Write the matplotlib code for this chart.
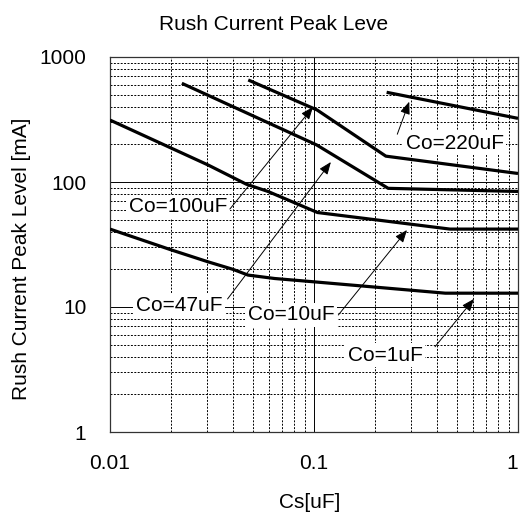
import matplotlib
matplotlib.use("Agg")
import matplotlib.pyplot as plt
from matplotlib.ticker import FixedLocator, LogLocator, NullFormatter

plt.rcParams['font.family'] = ['Liberation Sans', 'DejaVu Sans']
plt.rcParams['font.size'] = 15

# Curves: Cs [uF] -> rush current peak [mA]
cs_220 = [0.227, 1.0]
i_220 = [522, 323]

cs_100 = [0.0476, 0.1035, 0.225, 1.0]
i_100 = [655, 377, 161, 117]

cs_47 = [0.0225, 0.103, 0.231, 1.0]
i_47 = [616, 198, 89, 84]

cs_10 = [0.01, 0.0302, 0.0466, 0.0595, 0.104, 0.464, 1.0]
i_10 = [313, 137, 96, 84, 57, 42, 42]

cs_1 = [0.01, 0.02, 0.0302, 0.0401, 0.0475, 0.0642, 0.1, 0.44, 1.0]
i_1 = [42, 28.6, 23, 20, 18, 16.9, 15.9, 12.9, 12.9]

x_ticks = [0.01, 0.1, 1]
x_ticklabels = ['0.01', '0.1', '1']
y_ticks = [1, 10, 100, 1000]
y_ticklabels = ['1', '10', '100', '1000']

# label, text position, arrow tail, arrow tip (data coords)
labels = [
    ("Co=220uF", (0.491, 205), (0.256, 241), (0.293, 439)),
    ("Co=100uF", (0.0215, 63.1), (0.0387, 60.8), (0.0989, 398)),
    ("Co=47uF", (0.0218, 10.2), (0.0377, 11.6), (0.121, 144.5)),
    ("Co=10uF", (0.0771, 8.63), (0.1316, 8.63), (0.2856, 41.3)),
    ("Co=1uF", (0.2228, 4.13), (0.392, 4.81), (0.608, 11.6)),
]

fig = plt.figure(figsize=(5.21, 5.15), dpi=100)
ax = fig.add_axes([110/521, 1-432/515, 408/521, 375/515])

for xs, ys in [(cs_220, i_220), (cs_100, i_100), (cs_47, i_47), (cs_10, i_10), (cs_1, i_1)]:
    ax.plot(xs, ys, color='black', lw=2.3, zorder=3, solid_capstyle='butt')

ax.set_xscale('log')
ax.set_yscale('log')
ax.set_xlim(0.01, 1)
ax.set_ylim(1, 1000)

ax.xaxis.set_major_locator(FixedLocator(x_ticks))
ax.set_xticklabels(x_ticklabels)
ax.yaxis.set_major_locator(FixedLocator(y_ticks))
ax.set_yticklabels(y_ticklabels)
ax.xaxis.set_minor_locator(LogLocator(base=10, subs=range(2, 10)))
ax.yaxis.set_minor_locator(LogLocator(base=10, subs=range(2, 10)))
ax.xaxis.set_minor_formatter(NullFormatter())
ax.yaxis.set_minor_formatter(NullFormatter())
ax.tick_params(which='both', length=0)
ax.tick_params(axis='y', pad=17)
ax.tick_params(axis='x', pad=16)
# last x label sits at the right edge of the figure, keep it inside
ax.get_xticklabels()[-1].set_horizontalalignment('right')

ax.grid(which='major', color='black', lw=0.7, ls='-', zorder=1)
ax.grid(which='minor', color='black', lw=0.7, ls=(0, (2, 1.5)), zorder=1)
ax.set_axisbelow(True)

for s in ax.spines.values():
    s.set_color('#333333')
    s.set_linewidth(0.9)

for text, tpos, tail, tip in labels:
    ax.text(tpos[0], tpos[1], text, ha='center', va='center', zorder=4,
            bbox=dict(boxstyle='square,pad=0.12', fc='white', ec='none'))
    ax.annotate('', xy=tip, xytext=tail, zorder=5,
                arrowprops=dict(arrowstyle='-|>,head_length=0.75,head_width=0.3',
                                mutation_scale=10, color='black', lw=0.7,
                                shrinkA=0, shrinkB=0))

fig.text(273.5/521, 1-30/515, "Rush Current Peak Leve", ha='center', va='baseline')
fig.text(22/521, 1-258.5/515, "Rush Current Peak Level [mA]", rotation=90,
         ha='center', va='center')
fig.text(310/521, 1-502/515, "Cs[uF]", ha='center', va='center')

fig.savefig('out.png', dpi=100)
